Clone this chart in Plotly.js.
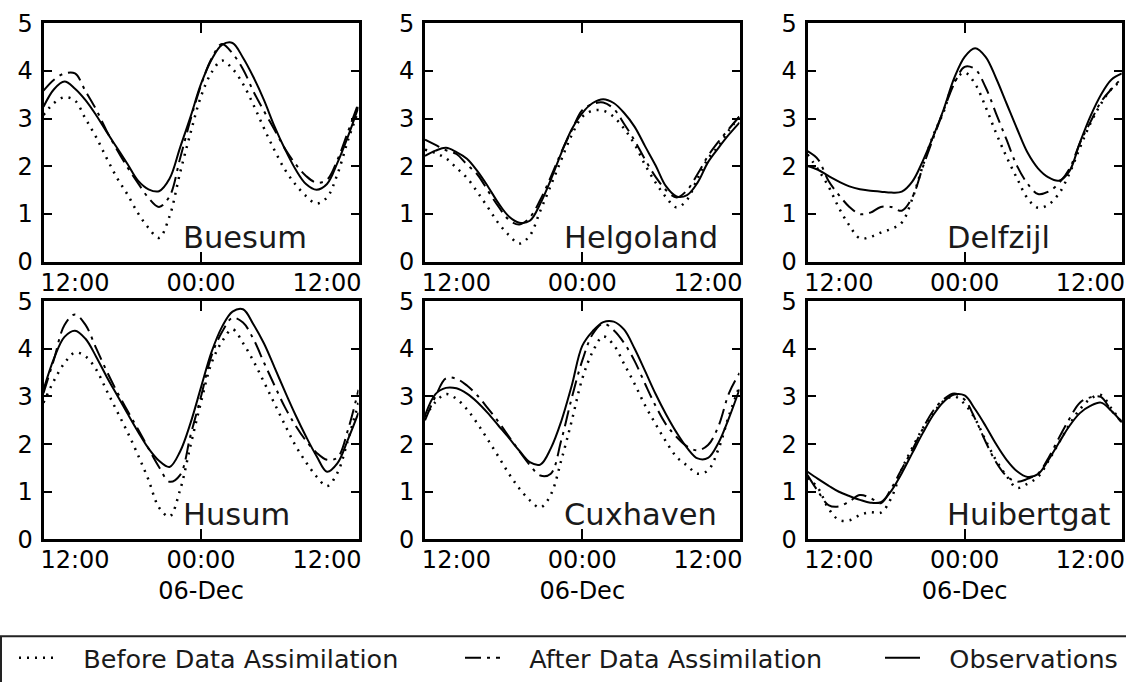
<!DOCTYPE html>
<html><head><meta charset="utf-8">
<script src="https://cdn.plot.ly/plotly-3.0.1.min.js"></script>
<style>html,body{margin:0;padding:0;background:#fff;} #chart{width:1126px;height:682px;}</style>
</head><body><div id="chart"></div>
<script>
// ---- data ----
const times = [
 '2013-12-05 09:00','2013-12-05 10:00','2013-12-05 11:00','2013-12-05 12:00','2013-12-05 13:00',
 '2013-12-05 14:00','2013-12-05 15:00','2013-12-05 16:00','2013-12-05 17:00','2013-12-05 18:00',
 '2013-12-05 19:00','2013-12-05 20:00','2013-12-05 21:00','2013-12-05 22:00','2013-12-05 23:00',
 '2013-12-06 00:00','2013-12-06 01:00','2013-12-06 02:00','2013-12-06 03:00','2013-12-06 04:00',
 '2013-12-06 05:00','2013-12-06 06:00','2013-12-06 07:00','2013-12-06 08:00','2013-12-06 09:00',
 '2013-12-06 10:00','2013-12-06 11:00','2013-12-06 12:00','2013-12-06 13:00','2013-12-06 14:00',
 '2013-12-06 15:00'];
const xTickVals = ['2013-12-05 12:00','2013-12-06 00:00','2013-12-06 12:00'];
const xTickTextTop = ['12:00','00:00','12:00'];
const xTickTextBottom = ['12:00','00:00<br>06-Dec','12:00'];
const xMidnight = ['2013-12-06 00:00'];
const yTicks = [0,1,2,3,4,5];
const stations = ['Buesum','Helgoland','Delfzijl','Husum','Cuxhaven','Huibertgat'];
const seriesNames = ['Before Data Assimilation','After Data Assimilation','Observations'];

const buesumBefore = [3.08,3.33,3.45,3.38,3.00,2.62,2.18,1.76,1.41,1.02,0.71,0.50,0.95,1.86,2.70,3.47,3.97,4.22,4.05,3.73,3.29,2.80,2.34,1.93,1.62,1.38,1.22,1.35,1.84,2.55,3.18];
const buesumAfter  = [3.59,3.82,3.95,3.95,3.58,3.20,2.75,2.35,1.98,1.65,1.34,1.15,1.37,2.16,2.98,3.70,4.26,4.57,4.37,4.04,3.57,3.16,2.77,2.37,2.05,1.80,1.66,1.72,2.14,2.73,3.33];
const buesumObs    = [3.25,3.62,3.78,3.63,3.39,3.08,2.73,2.39,2.05,1.70,1.52,1.48,1.74,2.39,3.04,3.73,4.24,4.55,4.59,4.28,3.87,3.39,2.84,2.36,1.94,1.63,1.51,1.63,2.08,2.63,3.25];

const helgolandBefore = [2.35,2.28,2.17,1.97,1.76,1.46,1.14,0.81,0.56,0.38,0.55,1.07,1.60,2.14,2.66,3.04,3.17,3.17,3.04,2.79,2.46,2.03,1.66,1.35,1.14,1.30,1.75,2.16,2.43,2.76,3.04];
const helgolandAfter  = [2.56,2.45,2.34,2.26,2.04,1.83,1.49,1.16,0.88,0.78,0.93,1.30,1.78,2.30,2.76,3.18,3.31,3.34,3.21,2.89,2.54,2.14,1.78,1.50,1.35,1.50,1.84,2.22,2.52,2.79,3.05];
const helgolandObs    = [2.22,2.33,2.39,2.30,2.16,1.90,1.58,1.23,0.95,0.82,0.86,1.22,1.72,2.28,2.78,3.12,3.33,3.41,3.33,3.12,2.83,2.42,2.02,1.58,1.37,1.40,1.66,2.09,2.39,2.67,2.92];

const delfzijlBefore = [2.25,1.94,1.58,1.13,0.76,0.49,0.52,0.61,0.69,0.82,1.32,2.01,2.65,3.15,3.77,3.97,3.73,3.25,2.70,2.20,1.75,1.33,1.13,1.20,1.43,1.85,2.39,2.90,3.31,3.62,3.80];
const delfzijlAfter  = [2.32,2.15,1.70,1.40,1.15,1.00,1.03,1.15,1.15,1.07,1.35,1.98,2.59,3.18,3.73,4.09,4.04,3.66,3.11,2.56,2.01,1.64,1.42,1.47,1.65,1.95,2.49,2.93,3.35,3.62,3.85];
const delfzijlObs    = [2.01,1.93,1.80,1.68,1.58,1.52,1.49,1.47,1.45,1.47,1.68,2.11,2.63,3.20,3.85,4.30,4.48,4.30,3.85,3.32,2.79,2.29,1.96,1.77,1.70,1.90,2.50,3.05,3.50,3.82,3.95];

const husumBefore = [2.87,3.33,3.70,3.92,3.84,3.57,3.13,2.69,2.25,1.77,1.25,0.67,0.48,1.03,1.97,2.88,3.70,4.15,4.41,4.12,3.74,3.30,2.85,2.40,1.97,1.62,1.32,1.12,1.40,2.09,2.87];
const husumAfter  = [3.07,3.78,4.50,4.72,4.50,4.02,3.54,3.10,2.70,2.31,1.91,1.52,1.21,1.35,2.18,3.00,3.85,4.35,4.65,4.55,4.20,3.71,3.23,2.77,2.39,2.07,1.82,1.67,1.72,2.30,3.14];
const husumObs    = [3.14,3.80,4.25,4.38,4.21,3.84,3.42,3.03,2.64,2.26,1.91,1.65,1.52,1.84,2.44,3.19,3.93,4.46,4.78,4.83,4.51,4.11,3.61,3.10,2.61,2.16,1.75,1.42,1.60,2.10,2.66];

const cuxhavenBefore = [2.57,2.88,3.05,2.95,2.73,2.43,2.09,1.74,1.38,1.07,0.82,0.67,0.94,1.66,2.49,3.37,3.94,4.26,4.08,3.68,3.26,2.81,2.42,2.05,1.73,1.55,1.38,1.45,1.90,2.60,3.21];
const cuxhavenAfter  = [2.50,3.00,3.38,3.37,3.23,3.02,2.75,2.47,2.16,1.85,1.56,1.34,1.38,2.08,2.97,3.75,4.31,4.53,4.39,4.12,3.74,3.26,2.80,2.41,2.15,1.95,1.87,1.98,2.38,3.07,3.49];
const cuxhavenObs    = [2.60,3.05,3.18,3.17,3.06,2.88,2.65,2.39,2.13,1.86,1.62,1.57,1.91,2.48,3.23,4.06,4.37,4.56,4.57,4.40,4.00,3.53,3.05,2.62,2.24,1.92,1.70,1.71,2.03,2.55,3.15];

const huibertgatBefore = [1.29,1.08,0.65,0.41,0.40,0.51,0.57,0.56,0.87,1.47,1.92,2.33,2.65,2.90,3.00,2.84,2.53,2.08,1.66,1.33,1.08,1.17,1.31,1.65,2.03,2.41,2.73,2.95,3.03,2.75,2.46];
const huibertgatAfter  = [1.35,1.01,0.72,0.69,0.80,0.93,0.87,0.76,1.07,1.48,1.88,2.32,2.70,2.94,3.06,2.93,2.53,2.05,1.62,1.33,1.21,1.27,1.38,1.71,2.13,2.53,2.87,2.98,2.99,2.70,2.46];
const huibertgatObs    = [1.42,1.27,1.13,1.00,0.91,0.83,0.77,0.78,1.02,1.39,1.81,2.23,2.61,2.89,3.04,3.02,2.73,2.38,2.00,1.67,1.43,1.31,1.37,1.67,2.03,2.38,2.65,2.80,2.87,2.70,2.46];

const stationSeries = [
  [buesumBefore, buesumAfter, buesumObs],
  [helgolandBefore, helgolandAfter, helgolandObs],
  [delfzijlBefore, delfzijlAfter, delfzijlObs],
  [husumBefore, husumAfter, husumObs],
  [cuxhavenBefore, cuxhavenAfter, cuxhavenObs],
  [huibertgatBefore, huibertgatAfter, huibertgatObs]
];

// ---- styling ----
const W = 1126, H = 682;
const colPx = [[43.5,358.5],[425,739.5],[807.5,1121.8]];
const rowPx = [[23.5,262.5],[302,541]];
const lineStyles = [
  {color:'#000', width:2.5, dash:'2px,6px'},
  {color:'#000', width:2, dash:'16px,6px,3px,6px'},
  {color:'#000', width:2, dash:'solid'}
];
const legendIds = ['legend','legend2','legend3'];
const FONT = 'DejaVu Sans, sans-serif';

const traces = [];
const layout = {
  width: W, height: H,
  margin: {l:0, r:0, t:0, b:0},
  paper_bgcolor: '#fff', plot_bgcolor: '#fff',
  font: {family: FONT, color: '#000', size: 24},
  showlegend: true,
  annotations: [],
  shapes: []
};

stations.forEach((name, i) => {
  const k = i + 1;
  const xa = 'x' + (k > 1 ? k : '');
  const ya = 'y' + (k > 1 ? k : '');
  const col = i % 3, row = Math.floor(i / 3);
  stationSeries[i].forEach((vals, s) => {
    traces.push({
      type: 'scatter', mode: 'lines', x: times, y: vals,
      xaxis: xa, yaxis: ya,
      name: '\u00a0\u00a0\u00a0' + seriesNames[s],
      legend: legendIds[s],
      showlegend: i === 0,
      line: Object.assign({shape: 'spline', smoothing: 1}, lineStyles[s]),
      hoverinfo: 'skip'
    });
  });
  const axKeyX = 'xaxis' + (k > 1 ? k : '');
  const axKeyY = 'yaxis' + (k > 1 ? k : '');
  layout[axKeyX] = {
    domain: [colPx[col][0] / W, colPx[col][1] / W],
    anchor: ya, type: 'date',
    range: [times[0], times[times.length - 1]],
    tickmode: 'array', tickvals: xTickVals,
    ticktext: row === 0 ? xTickTextTop : xTickTextBottom,
    ticks: 'inside', ticklen: 0, tickwidth: 0,
    minor: {tickmode: 'array', tickvals: xMidnight, ticks: 'inside', ticklen: 10, tickwidth: 2, tickcolor: '#000', showgrid: false},
    showline: true, linewidth: 3, linecolor: '#000', mirror: 'ticks',
    showgrid: false, zeroline: false,
    tickfont: {family: FONT, size: 24, color: '#000'},
    ticklabelstandoff: -3, fixedrange: true
  };
  layout[axKeyY] = {
    domain: [1 - rowPx[row][1] / H, 1 - rowPx[row][0] / H],
    anchor: xa, range: [0, 5],
    tickmode: 'array', tickvals: yTicks,
    ticks: 'inside', ticklen: 8, tickwidth: 2, tickcolor: '#000',
    showline: true, linewidth: 3, linecolor: '#000', mirror: 'ticks',
    showgrid: false, zeroline: false,
    tickfont: {family: FONT, size: 24, color: '#000'},
    ticklabelstandoff: 3, fixedrange: true
  };
  layout.annotations.push({
    xref: xa + ' domain', yref: ya + ' domain',
    x: 0.44, y: 0.025, xanchor: 'left', yanchor: 'bottom',
    text: name, showarrow: false, borderpad: 0,
    font: {family: FONT, size: 30.5, color: '#1a1a1a'}
  });
});

// legends (one per series, placed along the bottom box)
const legendX = [14, 460, 880];
legendIds.forEach((id, s) => {
  layout[id] = {
    x: legendX[s] / W, y: 1 - 660 / H, xanchor: 'left', yanchor: 'middle',
    orientation: 'h', bgcolor: 'rgba(0,0,0,0)', borderwidth: 0,
    itemwidth: 35,
    font: {family: FONT, size: 25.5, color: '#1a1a1a'}
  };
});
layout.shapes.push({
  type: 'rect', xref: 'paper', yref: 'paper',
  x0: 1 / W, x1: 1.02, y0: -0.1, y1: 1 - 638 / H,
  line: {color: '#222', width: 2}, fillcolor: 'rgba(0,0,0,0)', layer: 'below'
});

Plotly.newPlot('chart', traces, layout, {displayModeBar: false, staticPlot: true});
</script>
</body></html>
